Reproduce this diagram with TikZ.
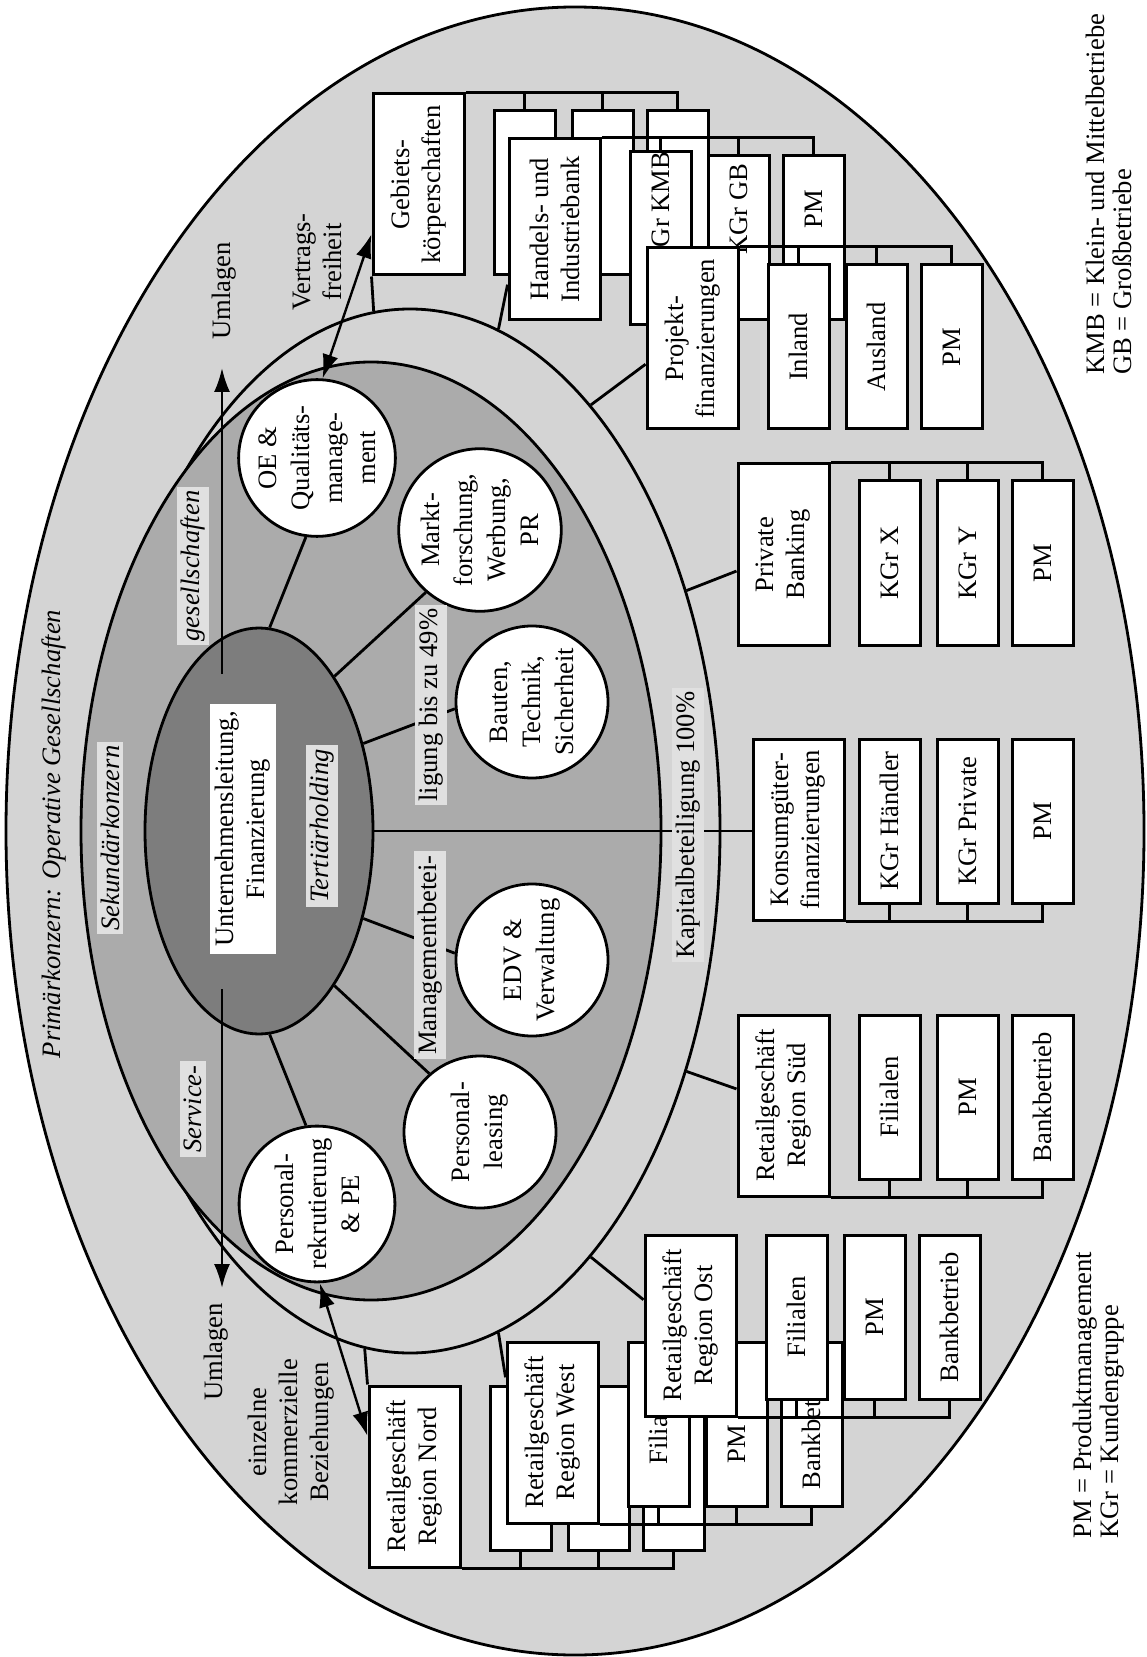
\documentclass[tikz,border=0pt]{standalone}
\usepackage{fontspec}
\setmainfont{Liberation Serif}
\usetikzlibrary{shapes.geometric,arrows.meta,calc}
\definecolor{outerc}{gray}{0.83}
\definecolor{sekc}{gray}{0.67}
\definecolor{darkc}{gray}{0.49}
\definecolor{labc}{gray}{0.88}
\newcommand{\dgfs}{\fontsize{13.3}{15.5}\selectfont}
\newcommand{\dgfsc}{\fontsize{13.3}{16.5}\selectfont}
\newcommand{\dgfsl}{\fontsize{13.3}{13.5}\selectfont}
\tikzset{
 ln/.style={line width=1.4pt, black},
 orgbox/.style={draw, line width=1.5pt, fill=white, rotate=90, inner sep=0pt, align=center, font=\dgfs},
 circ/.style={circle, draw, line width=1.4pt, fill=white, rotate=90, minimum size=76pt, inner sep=0pt, align=center, font=\dgfsc},
 lab/.style={rotate=90, inner sep=2pt, align=center, font=\dgfs},
 labbg/.style={lab, fill=labc},
 arr/.style={line width=1.2pt, -{Latex[length=12pt,width=8pt]}},
 darr/.style={line width=1.2pt, {Latex[length=12pt,width=8pt]}-{Latex[length=12pt,width=8pt]}},
}
\newcommand{\obx}[6]{%
 \pgfmathsetmacro{\obcx}{(#2+#4)/2}%
 \pgfmathsetmacro{\obcy}{(#3+#5)/2}%
 \pgfmathsetmacro{\obw}{(#5-#3)*0.5}%
 \pgfmathsetmacro{\obh}{(#4-#2)*0.5}%
 \node[orgbox, minimum width=\obw pt, minimum height=\obh pt] (#1) at (\obcx,\obcy) {#6};%
}
\newcommand{\grpx}[1]{%
 \pgfmathsetmacro{\gaL}{#1+121}\pgfmathsetmacro{\gaR}{#1+182}%
 \pgfmathsetmacro{\gbL}{#1+199}\pgfmathsetmacro{\gbR}{#1+260}%
 \pgfmathsetmacro{\gcL}{#1+274}\pgfmathsetmacro{\gcR}{#1+335}%
}
\newcommand{\grptop}[8]{%
 \pgfmathsetmacro{\gR}{#2+91}%
 \pgfmathsetmacro{\gBt}{#4+181}%
 \pgfmathsetmacro{\gsT}{#4+17}%
 \grpx{#3}%
 \obx{#1}{#2}{#4}{\gR}{\gBt}{#5}%
 \obx{#1a}{\gaL}{\gsT}{\gaR}{\gBt}{#6}%
 \obx{#1b}{\gbL}{\gsT}{\gbR}{\gBt}{#7}%
 \obx{#1c}{\gcL}{\gsT}{\gcR}{\gBt}{#8}%
 \draw[ln] (#1c.east) |- (#1.south east);%
 \draw[ln] (#1a.east) -- (#1a.east |- #1.south east);%
 \draw[ln] (#1b.east) -- (#1b.east |- #1.south east);%
}
\newcommand{\grpbot}[8]{%
 \pgfmathsetmacro{\gR}{#2+91}%
 \pgfmathsetmacro{\gBt}{#4+181}%
 \pgfmathsetmacro{\gsB}{#4+164}%
 \grpx{#3}%
 \obx{#1}{#2}{#4}{\gR}{\gBt}{#5}%
 \obx{#1a}{\gaL}{#4}{\gaR}{\gsB}{#6}%
 \obx{#1b}{\gbL}{#4}{\gbR}{\gsB}{#7}%
 \obx{#1c}{\gcL}{#4}{\gcR}{\gsB}{#8}%
 \draw[ln] (#1c.west) |- (#1.south west);%
 \draw[ln] (#1a.west) -- (#1a.west |- #1.south west);%
 \draw[ln] (#1b.west) -- (#1b.west |- #1.south west);%
}
\begin{document}
\begin{tikzpicture}[x=0.5pt,y=-0.5pt]
\fill[white] (0,0) rectangle (1146,1657);
\useasboundingbox (0,0) rectangle (1146,1657);
% outer ellipse
\draw[ln, fill=outerc] (575,831) ellipse [x radius=284.5pt, y radius=412pt];
\node[lab, font=\dgfs\itshape] (title) at (54,834) {Primärkonzern: Operative Gesellschaften};
% band ellipse
\node[ellipse, draw, line width=1.4pt, fill=outerc, minimum width=310pt, minimum height=522pt, inner sep=0pt] (Band) at (410,831) {};
% top groups
\grptop{Geb}{373}{373}{94}{Gebiets-\\körperschaften}{}{}{}
\draw[ln] (Band.94) -- (Geb.north west);
\grptop{Han}{509}{509}{139}{Handels- und\\Industriebank}{\hspace*{29pt}KGr KMB}{\hspace*{29pt}KGr GB}{\hspace*{29pt}PM}
\draw[ln] (Band.80) -- ($(Han.north west)!0.2!(Han.north east)$);
\grptop{Pro}{647}{647}{248}{Projekt-\\finanzierungen}{Inland}{Ausland}{PM}
\draw[ln] (Band.67) -- ($(Pro.north west)!0.36!(Pro.north east)$);
\grptop{Pri}{738}{738}{464}{Private\\Banking}{KGr X}{KGr Y}{PM}
\draw[ln] (Band.41) -- ($(Pri.north west)!0.41!(Pri.north east)$);
% bottom groups
\grpbot{Kon}{753}{738}{739}{Konsumgüter-\\finanzierungen}{KGr Händler}{KGr Private}{PM}
\grpbot{Sued}{738}{738}{1015}{Retailgeschäft\\Region Süd}{Filialen}{PM}{Bankbetrieb}
\draw[ln] (Band.319) -- ($(Sued.north west)!0.59!(Sued.north east)$);
\grpbot{Nord}{369}{369}{1386}{Retailgeschäft\\Region Nord}{}{}{}
\draw[ln] (Band.265) -- (Nord.north east);
\grpbot{West}{507}{507}{1342}{Retailgeschäft\\Region West}{Filialen}{PM\hspace*{20pt}}{Bankbetrieb}
\draw[ln] (Band.280) -- ($(West.north west)!0.80!(West.north east)$);
\grpbot{Ost}{645}{645}{1235}{Retailgeschäft\\Region Ost}{Filialen}{PM}{Bankbetrieb}
\draw[ln] (Band.293) -- ($(Ost.north west)!0.64!(Ost.north east)$);
% secondary ellipse
\node[ellipse, draw, line width=1.4pt, fill=sekc, minimum width=290pt, minimum height=469pt, inner sep=0pt] (Sek) at (371,831) {};
% tertiary
\node[ellipse, draw, line width=1.4pt, fill=darkc, minimum width=114pt, minimum height=203pt, inner sep=0pt] (T) at (259,831) {};
\draw[ln] (T.east) -- (T.east -| Kon.north);
% circles
\node[circ] (OE) at (317,458) {OE \&\\Qualitäts-\\manage-\\ment};
\node[circ] (MF) at (480,530) {Markt-\\forschung,\\Werbung,\\PR};
\node[circ] (BT) at (532,702) {Bauten,\\Technik,\\Sicherheit};
\node[circ] (EDV) at (532,960) {EDV \&\\Verwaltung};
\node[circ] (PL) at (480,1132) {Personal-\\leasing};
\node[circ] (PR) at (317,1204) {Personal-\\rekrutierung\\\& PE};
\draw[ln] (T.87) -- (OE.172);
\draw[ln] (T.64) -- (MF.139);
\draw[ln] (T.40) -- (BT.95);
\draw[ln] (T.320) -- (EDV.85);
\draw[ln] (T.296) -- (PL.41);
\draw[ln] (T.273) -- (PR.8);
% labels
\node[labbg, font=\dgfs\itshape] (sekl) at (110,838) {Sekundärkonzern};
\node[labbg, font=\dgfs\itshape] (gesl) at (193,566) {gesellschaften};
\node[labbg, font=\dgfs\itshape] (servl) at (193,1109) {Service-};
\node[labbg, font=\dgfs\itshape] (terl) at (322,826) {Tertiärholding};
\node[labbg] (mbl) at (430,955) {Managementbetei-};
\node[labbg] (lgl) at (431,705) {ligung bis zu 49\%};
\node[lab, fill=labc] (kapl) at (688,825) {Kapitalbeteiligung 100\%};
\node[rotate=90, fill=white, inner sep=0pt, minimum width=125pt, minimum height=33pt, align=center, font=\dgfs] (UL) at (243,829) {Unternehmensleitung,\\Finanzierung};
% Umlagen
\coordinate (u1s) at (222,674);
\coordinate (u1e) at (222,368);
\coordinate (u2s) at (222,989);
\coordinate (u2e) at (222,1288);
\draw[arr] (u1s) -- (u1e);
\draw[arr] (u2s) -- (u2e);
\node[lab] (uml1) at (224,291) {Umlagen};
\node[lab] (uml2) at (216,1352) {Umlagen};
% double arrows
\draw[darr] (OE.356) -- ($(Geb.north west)!0.23!(Geb.north east)$);
\draw[darr] (PR.182) -- ($(Nord.north west)!0.72!(Nord.north east)$);
\node[lab] (vf) at (317,262) {Vertrags-\\freiheit};
\node[lab] (ekb) at (291,1432) {einzelne\\kommerzielle\\Beziehungen};
% legends
\node[lab, anchor=west, align=left, inner sep=0pt, font=\dgfsl] (leg1) at (1109,375) {KMB = Klein- und Mittelbetriebe\\GB = Großbetriebe};
\node[lab, anchor=west, align=left, inner sep=0pt, font=\dgfsl] (leg2) at (1099,1539) {PM = Produktmanagement\\KGr = Kundengruppe};
\end{tikzpicture}
\end{document}
